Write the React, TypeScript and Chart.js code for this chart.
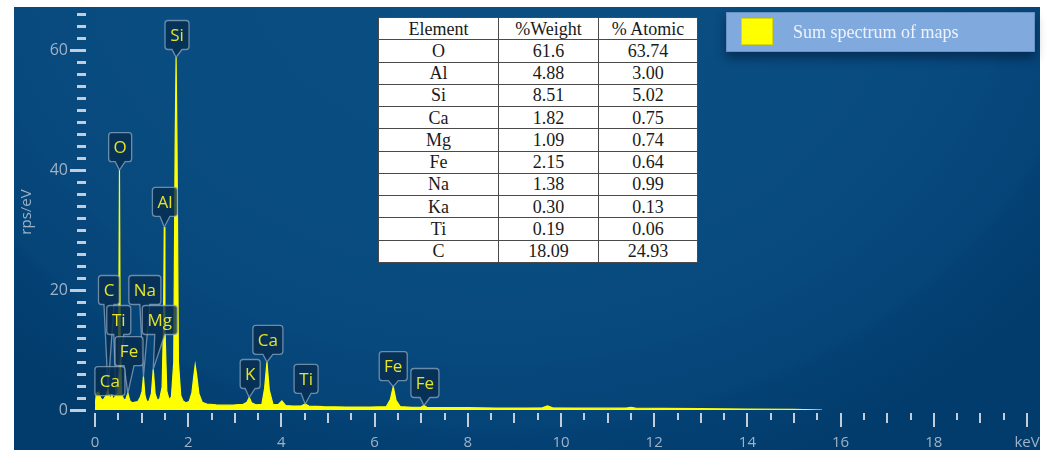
import React, { useEffect, useRef } from 'react';
import { Chart, registerables } from 'chart.js';

Chart.register(...registerables);

// ---- Spectrum data (keV vs rps/eV) ----
const energyKeV = [
  0, 0.03, 0.08, 0.12, 0.17, 0.22, 0.28, 0.32, 0.36, 0.40,
  0.45, 0.49, 0.51, 0.525, 0.54, 0.57, 0.62, 0.66, 0.705, 0.75,
  0.80, 0.86, 0.92, 0.97, 1.01, 1.04, 1.07, 1.11, 1.16, 1.21,
  1.25, 1.29, 1.34, 1.39, 1.44, 1.47, 1.487, 1.50, 1.54, 1.59,
  1.64, 1.69, 1.72, 1.74, 1.76, 1.79, 1.84, 1.89, 1.95, 2.02,
  2.08, 2.12, 2.15, 2.18, 2.23, 2.30, 2.40, 2.60, 2.80, 3.00,
  3.18, 3.26, 3.31, 3.36, 3.45, 3.58, 3.64, 3.69, 3.74, 3.82,
  3.93, 4.01, 4.09, 4.25, 4.43, 4.51, 4.59, 4.9, 5.4, 5.9,
  6.25, 6.34, 6.40, 6.46, 6.55, 6.8, 7.0, 7.06, 7.12, 7.5,
  8.0, 8.6, 9.2, 9.6, 9.71, 9.82, 10.3, 11.0, 11.4, 11.5,
  11.6, 12.2, 13.0, 14.0, 15.0, 15.6,
];
const countsRps = [
  0.4, 2.8, 3.0, 2.0, 1.6, 2.2, 3.4, 1.8, 2.5, 1.7,
  2.6, 2.8, 14, 40, 12, 2.6, 1.7, 1.8, 2.8, 1.5,
  1.2, 1.3, 1.4, 2.1, 3.1, 5.6, 2.5, 1.4, 1.5, 2.7,
  6.8, 2.7, 1.6, 1.9, 3.8, 14, 30.5, 14, 3.2, 1.7,
  2.2, 8, 44, 58.8, 44, 8, 2.4, 1.5, 1.2, 1.4,
  2.9, 5.6, 7.5, 5.9, 2.7, 1.3, 1.0, 0.85, 0.8, 0.85,
  0.95, 1.3, 2.1, 1.2, 0.85, 0.95, 3.6, 8.0, 3.3, 0.95,
  0.9, 1.5, 0.75, 0.65, 0.7, 1.0, 0.65, 0.55, 0.5, 0.5,
  0.55, 1.8, 3.9, 1.6, 0.55, 0.45, 0.5, 0.75, 0.45, 0.4,
  0.38, 0.33, 0.32, 0.36, 0.7, 0.36, 0.32, 0.3, 0.32, 0.45,
  0.3, 0.27, 0.22, 0.17, 0.12, 0,
];

// ---- Peak labels ----
const labelText = ['Si', 'O', 'Al', 'C', 'Na', 'Ti', 'Mg', 'Fe', 'Ca', 'K', 'Ca', 'Ti', 'Fe', 'Fe'];
const labelPeakKeV = [1.74, 0.525, 1.487, 0.28, 1.04, 0.45, 1.25, 0.705, 0.36, 3.31, 3.69, 4.51, 6.40, 7.06];
const labelPeakY = [58.8, 40, 30.5, 3.4, 5.6, 2.6, 6.8, 2.8, 2.5, 2.1, 8.0, 1.0, 3.9, 0.75];
const labelBoxKeV = [1.76, 0.54, 1.50, 0.30, 1.07, 0.51, 1.39, 0.73, 0.32, 3.33, 3.71, 4.53, 6.40, 7.08];
const labelBoxY = [62.5, 43.8, 34.7, 20, 20, 15, 15, 9.8, 4.8, 6, 11.7, 5.2, 7.3, 4.5];

// ---- Axis ticks ----
const xMin = 0;
const xMax = 20;
const xStep = 0.5;
const xUnitLabel = 'keV';
const yMin = 0;
const yMax = 66;
const yStep = 2;
const yMajorEvery = 20;
const yTitle = 'rps/eV';

// ---- Composition table ----
const tableHeader = ['Element', '%Weight', '% Atomic'];
const tableElements = ['O', 'Al', 'Si', 'Ca', 'Mg', 'Fe', 'Na', 'Ka', 'Ti', 'C'];
const tableWeight = ['61.6', '4.88', '8.51', '1.82', '1.09', '2.15', '1.38', '0.30', '0.19', '18.09'];
const tableAtomic = ['63.74', '3.00', '5.02', '0.75', '0.74', '0.64', '0.99', '0.13', '0.06', '24.93'];

const seriesName = 'Sum spectrum of maps';

const axisColor = '#9fb2c6';
const tickColor = '#c3cdd9';
const uiFont = '"Open Sans", "Noto Sans", sans-serif';

const tickPlugin = {
  id: 'customTicks',
  afterDraw(chart: any) {
    const { ctx, chartArea, scales } = chart;
    const xs = scales.x;
    const ys = scales.y;
    ctx.save();
    ctx.globalAlpha = 1;
    ctx.fillStyle = tickColor;
    xs.ticks.forEach((t: any) => {
      const v = t.value;
      const px = Math.round(xs.getPixelForValue(v));
      let len = 7;
      if (Math.abs(v % 2) < 1e-6) len = 14;
      else if (Math.abs(v % 1) < 1e-6) len = 10;
      const y0 = Math.round(chartArea.bottom + 3);
      ctx.fillRect(px - 1, y0, 2, len);
    });
    ys.ticks.forEach((t: any) => {
      const v = t.value;
      const py = Math.round(ys.getPixelForValue(v));
      const major = Math.abs(v % yMajorEvery) < 1e-6;
      const x1 = Math.round(chartArea.left - 9);
      const x0 = major ? Math.round(chartArea.left - 25) : Math.round(chartArea.left - 18);
      ctx.fillRect(x0, py - 1, x1 - x0, 3);
    });
    ctx.restore();
  },
};

const labelPlugin = {
  id: 'peakLabels',
  afterDatasetsDraw(chart: any) {
    const { ctx, scales } = chart;
    const xs = scales.x;
    const ys = scales.y;
    ctx.save();
    ctx.font = '500 17px ' + uiFont;
    ctx.textAlign = 'center';
    ctx.textBaseline = 'middle';
    labelText.forEach((txt, i) => {
      const tipX = xs.getPixelForValue(labelPeakKeV[i]);
      const tipY = ys.getPixelForValue(labelPeakY[i]);
      const cx = xs.getPixelForValue(labelBoxKeV[i]);
      const cy = ys.getPixelForValue(labelBoxY[i]);
      const tw = ctx.measureText(txt).width;
      const w = Math.round(tw + 10);
      const h = 29;
      const l = cx - w / 2;
      const r = cx + w / 2;
      const t = cy - h / 2;
      const b = cy + h / 2;
      const rad = 3;
      const notch = 5;
      ctx.beginPath();
      ctx.moveTo(l + rad, t);
      ctx.lineTo(r - rad, t);
      ctx.arcTo(r, t, r, t + rad, rad);
      ctx.lineTo(r, b - rad);
      ctx.arcTo(r, b, r - rad, b, rad);
      ctx.lineTo(cx + notch, b);
      ctx.lineTo(tipX, tipY);
      ctx.lineTo(cx - notch, b);
      ctx.lineTo(l + rad, b);
      ctx.arcTo(l, b, l, b - rad, rad);
      ctx.lineTo(l, t + rad);
      ctx.arcTo(l, t, l + rad, t, rad);
      ctx.closePath();
      ctx.fillStyle = 'rgba(8,44,78,0.8)';
      ctx.fill();
      ctx.strokeStyle = 'rgba(150,175,200,0.7)';
      ctx.lineWidth = 1.3;
      ctx.stroke();
      ctx.fillStyle = '#e4e42a';
      ctx.fillText(txt, cx, cy + 1);
    });
    ctx.restore();
  },
};

export default function App() {
  const ref = useRef<HTMLCanvasElement>(null);

  useEffect(() => {
    const canvas = ref.current;
    if (!canvas) return;
    const points = energyKeV.map((e, i) => ({ x: e, y: countsRps[i] }));
    const chart = new Chart(canvas, {
      type: 'line',
      data: {
        datasets: [
          {
            label: seriesName,
            data: points,
            borderColor: '#ffff00',
            backgroundColor: '#ffff00',
            fill: 'origin',
            borderWidth: 1.2,
            pointRadius: 0,
            tension: 0,
          },
        ],
      },
      options: {
        animation: false,
        responsive: false,
        events: [],
        plugins: { legend: { display: false }, tooltip: { enabled: false } },
        layout: { padding: { left: 0, right: 13, top: 7, bottom: 0 } },
        scales: {
          x: {
            type: 'linear',
            min: xMin,
            max: xMax,
            grid: { display: false, drawTicks: false },
            border: { display: false },
            ticks: {
              stepSize: xStep,
              autoSkip: false,
              maxRotation: 0,
              minRotation: 0,
              padding: 24,
              color: axisColor,
              font: { family: uiFont, size: 15 },
              callback: (v: any) => {
                const n = Number(v);
                if (Math.abs(n - xMax) < 1e-6) return xUnitLabel;
                return Math.abs(n % 2) < 1e-6 ? String(n) : '';
              },
            },
            afterFit: (s: any) => {
              s.height = 40;
              s.paddingLeft = 0;
              s.paddingRight = 0;
            },
          },
          y: {
            min: yMin,
            max: yMax,
            grid: { display: false, drawTicks: false },
            border: { display: false },
            title: {
              display: true,
              text: yTitle,
              color: axisColor,
              font: { family: uiFont, size: 15 },
              padding: { top: 4, bottom: 0 },
            },
            ticks: {
              stepSize: yStep,
              autoSkip: false,
              padding: 27,
              color: axisColor,
              font: { family: uiFont, size: 16 },
              callback: (v: any) => {
                const n = Number(v);
                return Math.abs(n % yMajorEvery) < 1e-6 ? String(n) : '';
              },
            },
            afterFit: (s: any) => {
              s.width = 81;
              s.paddingTop = 0;
              s.paddingBottom = 0;
            },
          },
        },
      },
      plugins: [tickPlugin, labelPlugin],
    } as any);
    return () => chart.destroy();
  }, []);

  const cellStyle: React.CSSProperties = {
    border: '1px solid #4a4a4a',
    textAlign: 'center',
    padding: 0,
    lineHeight: '20px',
  };

  return (
    <div
      style={{
        position: 'fixed',
        left: 0,
        top: 0,
        width: 1047,
        height: 450,
        background: '#ffffff',
        overflow: 'hidden',
      }}
    >
      <div
        style={{
          position: 'absolute',
          left: 14,
          top: 7,
          width: 1026,
          height: 443,
          background:
            'radial-gradient(ellipse 700px 560px at 480px -60px, #0a4e82 0%, #094c80 55%, #08497d 74%, #07477b 75%, #054477 86%, #044174 87%, #023c6c 100%)',
        }}
      >
        <canvas ref={ref} width={1026} height={443} style={{ display: 'block' }} />
      </div>

      <table
        style={{
          position: 'absolute',
          left: 378,
          top: 17,
          width: 319,
          height: 246,
          background: '#ffffff',
          borderCollapse: 'collapse',
          tableLayout: 'fixed',
          fontFamily: '"Liberation Serif", "DejaVu Serif", serif',
          fontSize: 18,
          color: '#1a1a1a',
          border: '1.5px solid #333',
        }}
      >
        <colgroup>
          <col style={{ width: 120 }} />
          <col style={{ width: 100 }} />
          <col style={{ width: 99 }} />
        </colgroup>
        <tbody>
          <tr>
            {tableHeader.map((h) => (
              <td key={h} style={cellStyle}>
                {h}
              </td>
            ))}
          </tr>
          {tableElements.map((el, i) => (
            <tr key={el + i}>
              <td style={cellStyle}>{el}</td>
              <td style={cellStyle}>{tableWeight[i]}</td>
              <td style={cellStyle}>{tableAtomic[i]}</td>
            </tr>
          ))}
        </tbody>
      </table>

      <div
        style={{
          position: 'absolute',
          left: 726,
          top: 12,
          width: 309,
          height: 40,
          boxSizing: 'border-box',
          background: '#80aadd',
          border: '1px solid #6a93c5',
          boxShadow: '0 6px 10px rgba(0,12,35,0.45)',
        }}
      >
        <div
          style={{
            position: 'absolute',
            left: 14,
            top: 5,
            width: 32,
            height: 27,
            background: '#ffff00',
            boxSizing: 'border-box',
            border: '1px solid #d8d800',
          }}
        />
        <div
          style={{
            position: 'absolute',
            left: 66,
            top: 0,
            lineHeight: '38px',
            fontSize: 18,
            fontFamily: '"Liberation Serif", "DejaVu Serif", serif',
            color: '#eef3fb',
            whiteSpace: 'nowrap',
          }}
        >
          {seriesName}
        </div>
      </div>
    </div>
  );
}
